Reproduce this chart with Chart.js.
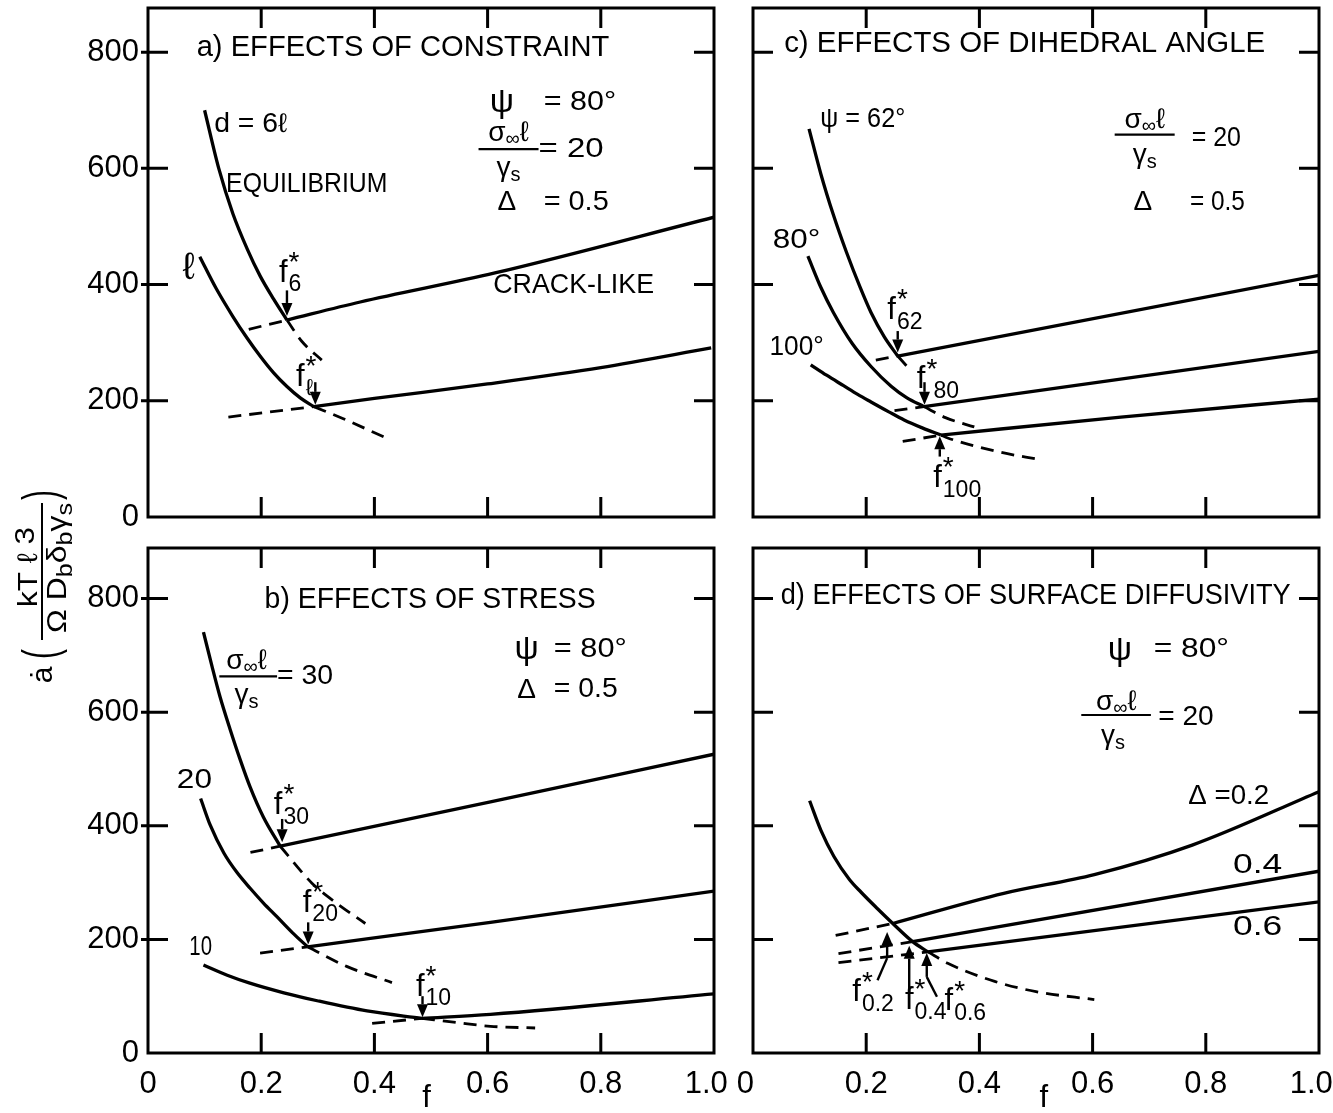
<!DOCTYPE html>
<html><head><meta charset="utf-8">
<script src="https://cdn.jsdelivr.net/npm/chart.js@4.4.1/dist/chart.umd.min.js"></script>
<style>
html,body{margin:0;padding:0;background:#fff;width:1333px;height:1113px;overflow:hidden}
canvas{position:absolute;left:0;top:0}
</style></head><body>
<canvas id="pa" width="1333" height="1113"></canvas>
<canvas id="pb" width="1333" height="1113"></canvas>
<canvas id="pc" width="1333" height="1113"></canvas>
<canvas id="pd" width="1333" height="1113"></canvas>
<script>
// ---------- tick labels ----------
const xTickValues  = [0, 0.2, 0.4, 0.6, 0.8, 1.0];
const xTickLabelsB = ['0', '0.2', '0.4', '0.6', '0.8', '1.0\u2002'];
const xTickLabelsD = ['0\u2002', '0.2', '0.4', '0.6', '0.8', '1.0\u2002'];
const yTickValues  = [0, 200, 400, 600, 800];
const yTickLabels  = ['0', '200', '400', '600', '800'];

// ---------- panel a: effects of constraint ----------
const aEquil6    = [[0.100,700],[0.125,600],[0.150,522],[0.175,462],[0.198,415],[0.222,375],[0.2455,339]];
const aEquil6Ext = [[0.2455,339],[0.272,302],[0.307,270]];
const aCrack6Ext = [[0.178,323],[0.2455,339]];
const aCrack6    = [[0.2455,339],[0.375,370],[0.613,420],[1.000,516]];
const aEquilL    = [[0.0915,448],[0.12,394],[0.15,345],[0.175,308],[0.198,277],[0.222,248],[0.245,225],[0.269,205],[0.293,190]];
const aEquilLExt = [[0.293,190],[0.343,170],[0.423,135]];
const aCrackLExt = [[0.142,172],[0.293,190]];
const aCrackL    = [[0.293,190],[0.400,204],[0.600,229],[0.800,257],[0.995,291]];

// ---------- panel b: effects of stress ----------
const b30     = [[0.098,741],[0.113,681],[0.127,628],[0.145,570],[0.163,516],[0.1805,468],[0.204,415],[0.2336,364]];
const b30Ext  = [[0.2336,364],[0.2897,299],[0.334,263],[0.384,228]];
const b30CExt = [[0.181,353],[0.2336,364]];
const b30C    = [[0.2336,364],[0.605,442],[1.000,526]];
const b20     = [[0.093,448],[0.11,401],[0.134,352],[0.157,318],[0.1805,290],[0.204,264],[0.2277,240],[0.255,212],[0.282,187]];
const b20Ext  = [[0.282,187],[0.352,152],[0.431,124]];
const b20CExt = [[0.198,176],[0.282,187]];
const b20C    = [[0.282,187],[0.605,230],[1.000,285]];
const b10     = [[0.098,155],[0.14,137],[0.18,123],[0.24,106],[0.299,92],[0.387,74],[0.484,61]];
const b10Ext  = [[0.484,61],[0.55,53],[0.605,47],[0.684,44]];
const b10CExt = [[0.396,52],[0.484,61]];
const b10C    = [[0.484,61],[0.605,68],[1.000,104]];

// ---------- panel c: effects of dihedral angle ----------
const c62     = [[0.099,668],[0.12,590],[0.142,520],[0.165,456],[0.189,396],[0.2085,352],[0.232,310],[0.2557,277]];
const c62Ext  = [[0.2557,277],[0.276,255]];
const c62CExt = [[0.217,270],[0.2557,277]];
const c62C    = [[0.2557,277],[1.000,416]];
const c80     = [[0.097,449],[0.12,395],[0.142,352],[0.175,299],[0.2085,259],[0.244,225],[0.272,205],[0.302,190]];
const c80Ext  = [[0.302,190],[0.34,171],[0.391,155]];
const c80CExt = [[0.25,183],[0.302,190]];
const c80C    = [[0.302,190],[1.000,285]];
const c100    = [[0.102,262],[0.13,244],[0.16,226],[0.185,211],[0.2085,198],[0.24,181],[0.267,167],[0.30,153],[0.332,141]];
const c100Ext = [[0.332,141],[0.344,136],[0.435,112],[0.505,99]];
const c100CExt= [[0.2645,130],[0.332,141]];
const c100C   = [[0.332,141],[0.65,172],[1.000,203]];

// ---------- panel d: effects of surface diffusivity ----------
const dEquil    = [[0.100,444],[0.12,392],[0.143,346],[0.17,306],[0.191,283],[0.22,254],[0.247,228],[0.282,196],[0.309,178]];
const dEquilExt = [[0.309,178],[0.344,158],[0.427,126],[0.50,108],[0.603,94]];
const d02       = [[0.247,228],[0.443,281],[0.603,314],[0.776,366],[1.000,460]];
const d02Ext    = [[0.146,207],[0.247,228]];
const d04       = [[0.282,196],[1.000,320]];
const d04Ext    = [[0.151,175],[0.282,196]];
const d06       = [[0.309,178],[1.000,266]];
const d06Ext    = [[0.151,159],[0.309,178]];

// ---------- styling helpers ----------
const FONT = '"Liberation Sans", Arial, sans-serif';
const LW = 3.3;
const DASH = [13, 8];
const TICK = 20;

function ds(arr, dashed, curved) {
  return {
    data: arr.map(([x, y]) => ({x, y})),
    borderColor: '#000', borderWidth: dashed ? 2.8 : LW,
    borderDash: dashed ? DASH : [],
    pointRadius: 0, showLine: true, fill: false,
    tension: curved ? 0.4 : 0, cubicInterpolationMode: curved ? 'monotone' : 'default',
    borderCapStyle: 'butt', borderJoinStyle: 'round'
  };
}

function txt(ctx, s, x, yc, size, align, width) {
  ctx.font = size + 'px ' + FONT;
  ctx.textBaseline = 'middle';
  ctx.textAlign = 'left';
  const w = ctx.measureText(s).width;
  let sx = width ? width / w : 1;
  let x0 = x;
  if (align === 'center') x0 = x - w * sx / 2;
  if (align === 'right') x0 = x - w * sx;
  ctx.save();
  ctx.translate(x0, yc);
  ctx.scale(sx, 1);
  ctx.fillText(s, 0, 0);
  ctx.restore();
  return w * sx;
}

// rich text: segments [text, size, dy]; centered (or left) at x, baseline at yb
function rich(ctx, segs, x, yb, align, width) {
  let tot = 0;
  const ws = segs.map(([t, s]) => { ctx.font = s + 'px ' + FONT; const w = ctx.measureText(t).width; tot += w; return w; });
  const sx = width ? width / tot : 1;
  const x0 = align === 'left' ? x : x - tot * sx / 2;
  ctx.save();
  ctx.translate(x0, yb); ctx.scale(sx, 1);
  ctx.textBaseline = 'alphabetic'; ctx.textAlign = 'left';
  let cx = 0;
  segs.forEach(([t, s, dy], i) => {
    ctx.font = s + 'px ' + FONT;
    ctx.fillText(t, cx, dy || 0);
    cx += ws[i];
  });
  ctx.restore();
}

function arrow(ctx, x0, y0, x1, y1) {
  const ang = Math.atan2(y1 - y0, x1 - x0);
  const hl = 13, hw = 5.5;
  const bx = x1 - hl * Math.cos(ang), by = y1 - hl * Math.sin(ang);
  ctx.beginPath(); ctx.moveTo(x0, y0); ctx.lineTo(bx, by); ctx.lineWidth = 2.4; ctx.stroke();
  ctx.beginPath();
  ctx.moveTo(x1, y1);
  ctx.lineTo(bx + hw * Math.sin(ang), by - hw * Math.cos(ang));
  ctx.lineTo(bx - hw * Math.sin(ang), by + hw * Math.cos(ang));
  ctx.closePath(); ctx.fill();
}

function fstar(ctx, x, yc, sub, gap) {
  const fw = txt(ctx, 'f', x, yc, 31, 'center');
  const r = x + fw / 2;
  txt(ctx, '*', r + 1, yc - 10, 28, 'left');
  txt(ctx, sub, r + (gap || 1), yc + 12, 23, 'left');
}

const sigmaNum = [['σ', 28, 0], ['∞', 20, 4], ['ℓ', 28, 0]];
const gammaDen = [['γ', 28, 0], ['s', 20, 5]];

function drawAnn(ctx, an, px, py) {
  switch (an.k) {
    case 't': {
      const x1 = px(an.f), w = an.f2 !== undefined ? px(an.f2) - x1 : undefined;
      txt(ctx, an.s, x1, py(an.v), an.size, an.align || 'left', w);
      break;
    }
    case 'fs': fstar(ctx, px(an.f), py(an.v), an.sub, an.gap); break;
    case 'frac': {
      const xa = px(an.f1), xb = px(an.f2), y = py(an.v);
      ctx.lineWidth = 2.2; ctx.beginPath(); ctx.moveTo(xa, y); ctx.lineTo(xb, y); ctx.stroke();
      rich(ctx, sigmaNum, px(an.nf), py(an.nv) + 10, 'center');
      rich(ctx, gammaDen, px(an.df), py(an.dv) + 7, 'center');
      break;
    }
    case 'arr': arrow(ctx, px(an.p[0][0]), py(an.p[0][1]), px(an.p[1][0]), py(an.p[1][1])); break;
    case 'seg': {
      ctx.lineWidth = 2.4; ctx.beginPath();
      an.p.forEach(([f, v], i) => i ? ctx.lineTo(px(f), py(v)) : ctx.moveTo(px(f), py(v)));
      ctx.stroke(); break;
    }
  }
}

const deco = {
  id: 'deco',
  afterDraw(chart, args, o) {
    const ctx = chart.ctx, a = chart.chartArea, X = chart.scales.x, Y = chart.scales.y;
    const px = f => X.getPixelForValue(f), py = v => Y.getPixelForValue(v);
    ctx.save();
    ctx.strokeStyle = '#000'; ctx.fillStyle = '#000'; ctx.lineWidth = 3;
    ctx.strokeRect(a.left, a.top, a.right - a.left, a.bottom - a.top);
    ctx.beginPath();
    xTickValues.slice(1, -1).forEach(v => {
      const x = px(v);
      ctx.moveTo(x, a.bottom); ctx.lineTo(x, a.bottom - TICK);
      ctx.moveTo(x, a.top); ctx.lineTo(x, a.top + TICK);
    });
    yTickValues.slice(1).forEach(v => {
      const y = py(v);
      ctx.moveTo(a.left - (o.outY ? 7 : 0), y); ctx.lineTo(a.left + TICK, y);
      ctx.moveTo(a.right, y); ctx.lineTo(a.right - TICK, y);
    });
    ctx.stroke();
    (o.ann || []).forEach(an => drawAnn(ctx, an, px, py));
    if (o.xTitle !== undefined) txt(ctx, 'f', px(o.xTitle), a.bottom + 45, 31, 'center');
    ctx.restore();
  }
};

const yTitle = {
  id: 'yTitle',
  afterDraw(chart) {
    const ctx = chart.ctx;
    ctx.save();
    ctx.fillStyle = '#000'; ctx.strokeStyle = '#000';
    ctx.translate(42, 585); ctx.rotate(-Math.PI / 2);
    ctx.textBaseline = 'alphabetic'; ctx.textAlign = 'center';
    ctx.font = '30px ' + FONT; ctx.fillText('ȧ', -90, 10);
    ctx.save(); ctx.scale(0.6, 1);
    ctx.font = '50px ' + FONT; ctx.textBaseline = 'middle';
    ctx.fillText('(', -69 / 0.6, 1); ctx.fillText(')', 90 / 0.6, 1);
    ctx.restore();
    ctx.lineWidth = 2; ctx.beginPath(); ctx.moveTo(-55, 0); ctx.lineTo(82, 0); ctx.stroke();
    rich(ctx, [['k', 28, 0], ['T ', 28, 0], ['ℓ ', 28, 0], ['3', 28, -3]], 18, -5, 'center', 80);
    rich(ctx, [['Ω', 28, 0], [' D', 28, 0], ['b', 22, 6], ['δ', 28, 0], ['b', 22, 6], ['γ', 28, 0], ['s', 22, 6]], 17, 24, 'center', 130);
    ctx.restore();
  }
};

function makeChart(id, rect, yMax, xLabels, showY, sets, decoOpts, extra) {
  const W = 1333, H = 1113;
  const showX = !!xLabels;
  const yW = showY ? 100 : 0, xH = showX ? 55 : 0;
  return new Chart(document.getElementById(id), {
    type: 'scatter',
    data: { datasets: sets },
    options: {
      responsive: false, animation: false, devicePixelRatio: 1,
      layout: { padding: { left: rect[0] - yW, top: rect[1], right: W - rect[2], bottom: H - rect[3] - xH } },
      plugins: { legend: { display: false }, tooltip: { enabled: false }, deco: decoOpts },
      scales: {
        x: {
          type: 'linear', min: 0, max: 1,
          grid: { display: false, drawTicks: false }, border: { display: false },
          afterBuildTicks: s => { s.ticks = xTickValues.map(v => ({ value: v })); },
          afterFit: s => { s.height = xH; s.paddingLeft = 0; s.paddingRight = 0; },
          ticks: {
            display: showX, autoSkip: false, maxRotation: 0, minRotation: 0, padding: 13, color: '#000',
            font: { family: FONT, size: 31 },
            callback: v => showX ? xLabels[xTickValues.findIndex(t => Math.abs(t - v) < 1e-6)] : ''
          }
        },
        y: {
          type: 'linear', min: 0, max: yMax,
          grid: { display: false, drawTicks: false }, border: { display: false },
          afterBuildTicks: s => { s.ticks = yTickValues.map(v => ({ value: v })); },
          afterFit: s => { s.width = yW; s.paddingTop = 0; s.paddingBottom = 0; },
          ticks: {
            display: showY, padding: 9, color: '#000',
            font: { family: FONT, size: 31 },
            callback: v => yTickLabels[yTickValues.indexOf(v)]
          }
        }
      }
    },
    plugins: [deco].concat(extra || [])
  });
}

// ---------- annotations ----------
const annA = [
  { k: 't', s: 'a) EFFECTS OF CONSTRAINT', f: 0.086, f2: 0.815, v: 807, size: 29 },
  { k: 't', s: 'ψ', f: 0.625, v: 714, size: 34, align: 'center' },
  { k: 't', s: '= 80°', f: 0.699, f2: 0.827, v: 713, size: 27 },
  { k: 'frac', f1: 0.584, f2: 0.690, v: 633, nf: 0.637, nv: 664, df: 0.637, dv: 599 },
  { k: 't', s: '= 20', f: 0.690, f2: 0.805, v: 632, size: 27 },
  { k: 't', s: 'Δ', f: 0.634, v: 541, size: 28, align: 'center' },
  { k: 't', s: '= 0.5', f: 0.699, f2: 0.814, v: 541, size: 27 },
  { k: 't', s: 'd = 6ℓ', f: 0.117, f2: 0.246, v: 675, size: 27 },
  { k: 't', s: 'EQUILIBRIUM', f: 0.138, f2: 0.423, v: 573, size: 28 },
  { k: 't', s: 'ℓ', f: 0.072, v: 428, size: 38, align: 'center' },
  { k: 't', s: 'CRACK-LIKE', f: 0.610, f2: 0.894, v: 398, size: 28 },
  { k: 'fs', f: 0.239, v: 420, sub: '6' },
  { k: 'arr', p: [[0.2455, 390], [0.2455, 346]] },
  { k: 'fs', f: 0.269, v: 241, sub: 'ℓ' },
  { k: 'arr', p: [[0.2956, 232], [0.2956, 193]] }
];
const annB = [
  { k: 't', s: 'b) EFFECTS OF STRESS', f: 0.206, f2: 0.791, v: 797, size: 29 },
  { k: 't', s: 'ψ', f: 0.669, v: 710, size: 34, align: 'center' },
  { k: 't', s: '= 80°', f: 0.717, f2: 0.846, v: 710, size: 27 },
  { k: 't', s: 'Δ', f: 0.669, v: 639, size: 28, align: 'center' },
  { k: 't', s: '= 0.5', f: 0.717, f2: 0.830, v: 639, size: 27 },
  { k: 'frac', f1: 0.126, f2: 0.228, v: 663, nf: 0.174, nv: 694, df: 0.174, dv: 628 },
  { k: 't', s: '= 30', f: 0.228, f2: 0.327, v: 662, size: 27 },
  { k: 't', s: '20', f: 0.051, f2: 0.113, v: 479, size: 27 },
  { k: 't', s: '10', f: 0.073, f2: 0.113, v: 185, size: 27 },
  { k: 'fs', f: 0.230, v: 436, sub: '30' },
  { k: 'arr', p: [[0.237, 412], [0.237, 371]] },
  { k: 'fs', f: 0.281, v: 264, sub: '20' },
  { k: 'arr', p: [[0.283, 230], [0.283, 191]] },
  { k: 'fs', f: 0.481, v: 116, sub: '10' },
  { k: 'arr', p: [[0.485, 100], [0.485, 63]] }
];
const annC = [
  { k: 't', s: 'c) EFFECTS OF DIHEDRAL ANGLE', f: 0.055, f2: 0.905, v: 814, size: 29 },
  { k: 't', s: 'ψ = 62°', f: 0.119, f2: 0.269, v: 685, size: 28 },
  { k: 'frac', f1: 0.639, f2: 0.745, v: 658, nf: 0.692, nv: 687, df: 0.692, dv: 622 },
  { k: 't', s: '= 20', f: 0.775, f2: 0.862, v: 652, size: 27 },
  { k: 't', s: 'Δ', f: 0.689, v: 542, size: 28, align: 'center' },
  { k: 't', s: '= 0.5', f: 0.772, f2: 0.869, v: 542, size: 27 },
  { k: 't', s: '80°', f: 0.035, f2: 0.119, v: 476, size: 27 },
  { k: 't', s: '100°', f: 0.029, f2: 0.125, v: 291, size: 27 },
  { k: 'fs', f: 0.245, v: 355, sub: '62' },
  { k: 'arr', p: [[0.2557, 320], [0.2557, 283]] },
  { k: 'fs', f: 0.297, v: 236, sub: '80', gap: 8 },
  { k: 'arr', p: [[0.303, 232], [0.303, 193]] },
  { k: 'fs', f: 0.326, v: 66, sub: '100' },
  { k: 'arr', p: [[0.330, 104], [0.330, 139]] }
];
const annD = [
  { k: 't', s: 'd) EFFECTS OF SURFACE DIFFUSIVITY', f: 0.049, f2: 0.950, v: 805, size: 29 },
  { k: 't', s: 'ψ', f: 0.648, v: 709, size: 34, align: 'center' },
  { k: 't', s: '= 80°', f: 0.708, f2: 0.841, v: 710, size: 27 },
  { k: 'frac', f1: 0.580, f2: 0.703, v: 595, nf: 0.642, nv: 622, df: 0.636, dv: 557 },
  { k: 't', s: '= 20', f: 0.716, f2: 0.814, v: 590, size: 27 },
  { k: 't', s: 'Δ =0.2', f: 0.769, f2: 0.912, v: 451, size: 27 },
  { k: 't', s: '0.4', f: 0.848, f2: 0.935, v: 330, size: 27 },
  { k: 't', s: '0.6', f: 0.848, f2: 0.935, v: 220, size: 27 },
  { k: 'fs', f: 0.183, v: 106, sub: '0.2' },
  { k: 'fs', f: 0.276, v: 93, sub: '0.4' },
  { k: 'fs', f: 0.346, v: 90, sub: '0.6' },
  { k: 'arr', p: [[0.237, 167], [0.237, 213]] },
  { k: 'seg', p: [[0.237, 167], [0.220, 128]] },
  { k: 'arr', p: [[0.276, 105], [0.276, 189]] },
  { k: 'arr', p: [[0.307, 134], [0.307, 176]] },
  { k: 'seg', p: [[0.307, 134], [0.325, 99]] }
];

// ---------- charts ----------
makeChart('pa', [148, 8, 714, 517], 876, null, true, [
  ds(aEquil6, false, true), ds(aEquil6Ext, true, true), ds(aCrack6Ext, true, false), ds(aCrack6, false, true),
  ds(aEquilL, false, true), ds(aEquilLExt, true, true), ds(aCrackLExt, true, false), ds(aCrackL, false, true)
], { ann: annA, outY: true }, [yTitle]);

makeChart('pb', [148, 548, 714, 1053], 889, xTickLabelsB, true, [
  ds(b30, false, true), ds(b30Ext, true, true), ds(b30CExt, true, false), ds(b30C, false, true),
  ds(b20, false, true), ds(b20Ext, true, true), ds(b20CExt, true, false), ds(b20C, false, true),
  ds(b10, false, true), ds(b10Ext, true, true), ds(b10CExt, true, false), ds(b10C, false, true)
], { ann: annB, outY: true, xTitle: 0.492 });

makeChart('pc', [753, 8, 1319, 517], 876, null, false, [
  ds(c62, false, true), ds(c62Ext, true, true), ds(c62CExt, true, false), ds(c62C, false, false),
  ds(c80, false, true), ds(c80Ext, true, true), ds(c80CExt, true, false), ds(c80C, false, false),
  ds(c100, false, true), ds(c100Ext, true, true), ds(c100CExt, true, false), ds(c100C, false, true)
], { ann: annC });

makeChart('pd', [753, 548, 1319, 1053], 889, xTickLabelsD, false, [
  ds(dEquil, false, true), ds(dEquilExt, true, true),
  ds(d02, false, true), ds(d02Ext, true, false),
  ds(d04, false, false), ds(d04Ext, true, false),
  ds(d06, false, false), ds(d06Ext, true, false)
], { ann: annD, xTitle: 0.514 });
</script>
</body></html>
